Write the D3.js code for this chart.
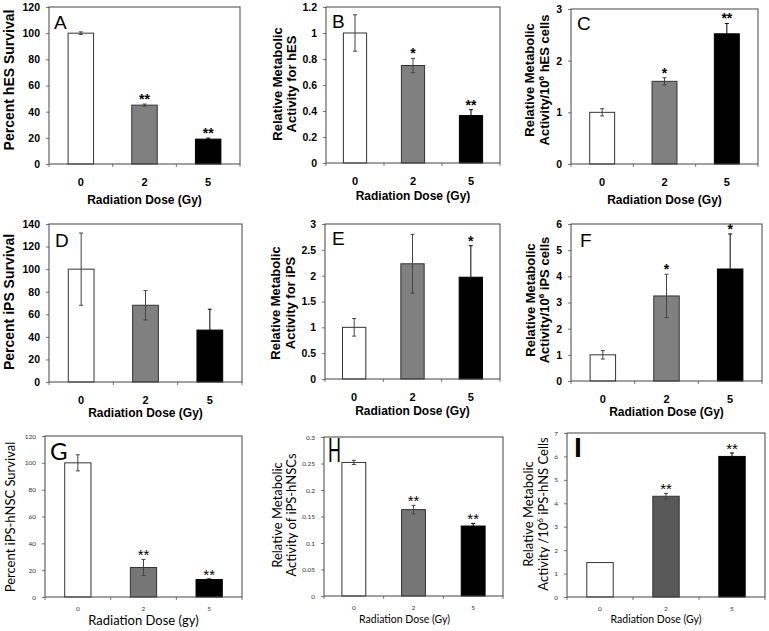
<!DOCTYPE html>
<html><head><meta charset="utf-8">
<script src="https://cdn.jsdelivr.net/npm/d3@7"></script>
<style>body{margin:0;background:#fff}svg{display:block}</style>
</head><body>
<svg id="chart" width="769" height="631"></svg>
<script>
// ---------- DATA ----------
const categories = ["0", "2", "5"];

const hesSurvival      = [100, 45, 19];
const hesSurvivalErr   = [1, 0.8, 0.8];
const hesMetab         = [1.0, 0.75, 0.365];
const hesMetabErr      = [0.14, 0.055, 0.045];
const hesMetabCell     = [1.0, 1.6, 2.52];
const hesMetabCellErr  = [0.07, 0.07, 0.2];

const ipsSurvival      = [100, 68, 46];
const ipsSurvivalErr   = [32, 13, 18.5];
const ipsMetab         = [1.0, 2.23, 1.97];
const ipsMetabErr      = [0.17, 0.57, 0.61];
const ipsMetabCell     = [1.0, 3.25, 4.28];
const ipsMetabCellErr  = [0.16, 0.83, 1.34];

const nscSurvival      = [100, 22, 13];
const nscSurvivalErr   = [6, 6, 0.5];
const nscMetab         = [0.252, 0.163, 0.132];
const nscMetabErr      = [0.004, 0.008, 0.005];
const nscMetabCell     = [1.47, 4.3, 6.0];
const nscMetabCellErr  = [0, 0.12, 0.15];

const starsA = ["", "**", "**"];
const starsB = ["", "*", "**"];
const starsC = ["", "*", "**"];
const starsD = ["", "", ""];
const starsE = ["", "", "*"];
const starsF = ["", "*", "*"];
const starsG = ["", "**", "**"];
const starsH = ["", "**", "**"];
const starsI = ["", "**", "**"];

const ticksA = [0, 20, 40, 60, 80, 100, 120];
const ticksB = [0, 0.2, 0.4, 0.6, 0.8, 1, 1.2];
const ticksC = [0, 1, 2, 3];
const ticksD = [0, 20, 40, 60, 80, 100, 120, 140];
const ticksE = [0, 0.5, 1, 1.5, 2, 2.5, 3];
const ticksF = [0, 1, 2, 3, 4, 5, 6];
const ticksG = [0, 20, 40, 60, 80, 100, 120];
const ticksH = [0, 0.05, 0.1, 0.15, 0.2, 0.25, 0.3];
const ticksI = [0, 1, 2, 3, 4, 5, 6, 7];

// ---------- LAYOUT / STYLE ----------
const TOP = {font: "'Liberation Sans', Arial, sans-serif", weight: "bold", tick: 10.5, xtick: 11, xt: 12, yt1: 14, yt2: 13,
             tickPadX: 14, letterFont: "'Liberation Sans', Arial, sans-serif", letterWeight: "normal", letterSize: 19,
             grays: ["#ffffff", "#808080", "#000000"], tickColor: "#000",
             starFont: "'Liberation Sans', Arial, sans-serif", starWeight: "bold", starSize: 14, starOff: 0};
const BOT = {font: "Lato, 'Open Sans', sans-serif", weight: "normal", tick: 6.5, xtick: 6.5, xt: 10.5, yt1: 13, yt2: 13,
             tickPadX: 9, letterFont: "Lato, sans-serif", letterWeight: "normal", letterSize: 24,
             grays: ["#ffffff", "#767676", "#000000"], tickColor: "#333",
             starFont: "'Liberation Sans', Arial, sans-serif", starWeight: "normal", starSize: 15, starOff: 1};

const panels = [
  {L: "A", v: hesSurvival, e: hesSurvivalErr, s: starsA, t: ticksA, f: [49, 7, 240, 164], st: TOP,
   yt: ["Percent hES Survival"], ytx: [9], yty: 80, xt: "Radiation Dose (Gy)", xtb: 40, lx: 5, lb: 22},
  {L: "B", v: hesMetab, e: hesMetabErr, s: starsB, t: ticksB, f: [326, 7, 500, 163], st: TOP,
   yt: ["Relative Metabolic", "Activity for hES"], ytx: [277, 291], yty: 84, xt: "Radiation Dose (Gy)", xtb: 37, lx: 6, lb: 21},
  {L: "C", v: hesMetabCell, e: hesMetabCellErr, s: starsC, t: ticksC, f: [571, 9, 758, 164], st: TOP,
   yt: ["Relative Metabolic", "Activity/10|6| hES cells"], ytx: [529, 544], yty: 80, xt: "Radiation Dose (Gy)", xtb: 40, lx: 6, lb: 21},
  {L: "D", v: ipsSurvival, e: ipsSurvivalErr, s: starsD, t: ticksD, f: [49, 224, 242, 382], st: TOP,
   yt: ["Percent iPS Survival"], ytx: [9], yty: 302, xt: "Radiation Dose (Gy)", xtb: 35, lx: 6, lb: 23},
  {L: "E", v: ipsMetab, e: ipsMetabErr, s: starsE, t: ticksE, f: [325, 224, 500, 379], st: TOP,
   yt: ["Relative Metabolic", "Activity for iPS"], ytx: [275, 290], yty: 303, xt: "Radiation Dose (Gy)", xtb: 36, lx: 7, lb: 21},
  {L: "F", v: ipsMetabCell, e: ipsMetabCellErr, s: starsF, t: ticksF, f: [571, 224, 762, 381], st: TOP,
   yt: ["Relative Metabolic", "Activity/10|6| iPS cells"], ytx: [530, 544], yty: 300, xt: "Radiation Dose (Gy)", xtb: 35, lx: 9, lb: 23},
  {L: "G", v: nscSurvival, e: nscSurvivalErr, s: starsG, t: ticksG, f: [45, 436, 242, 597], st: BOT,
   yt: ["Percent iPS-hNSC Survival"], ytx: [10], yty: 517, xt: "Radiation Dose (gy)", xtb: 28, xtSize: 13, lx: 5, lb: 24},
  {L: "H", v: nscMetab, e: nscMetabErr, s: starsH, t: ticksH, f: [324, 437, 503, 596], st: BOT,
   yt: ["Relative Metabolic", "Activity of  iPS-hNSCs"], ytx: [277, 291], yty: 515, xt: "Radiation Dose (Gy)", xtb: 27, xtdx: -9, lx: 4, lb: 25, lw: 13, ls: 32},
  {L: "I", v: nscMetabCell, e: nscMetabCellErr, s: starsI, t: ticksI, f: [567, 433, 765, 597], st: BOT,
   yt: ["Relative Metabolic", "Activity /10|6| iPS-hNS Cells"], ytx: [528, 543], yty: 514, xt: "Radiation Dose (Gy)", xtb: 26, xtdx: -10, lx: 7, lb: 24, lweight: 900, ls: 26,
   grays: ["#ffffff", "#595959", "#000000"]}
];

const svg = d3.select("#chart");

function addRich(sel, str, size) {
  // "|6|" denotes superscript
  const parts = str.split("|");
  parts.forEach((p, i) => {
    if (i % 2 === 1) {
      sel.append("tspan").attr("font-size", size * 0.62).attr("dy", -size * 0.38).text(p);
    } else {
      const ts = sel.append("tspan").text(p);
      if (i > 0) ts.attr("dy", size * 0.38);
    }
  });
}

panels.forEach(p => {
  const st = p.st;
  const [x0, y0, x1, y1] = p.f;
  const g = svg.append("g");
  const x = d3.scaleBand().domain(categories).range([x0, x1]).paddingInner(0.6).paddingOuter(0.3);
  const y = d3.scaleLinear().domain([0, p.t[p.t.length - 1]]).range([y1, y0]);
  const grays = p.grays || st.grays;

  // y axis
  const ya = g.append("g").attr("transform", `translate(${x0},0)`)
    .call(d3.axisLeft(y).tickValues(p.t).tickFormat(d => String(d)).tickSizeInner(3).tickSizeOuter(0).tickPadding(6));
  ya.select(".domain").remove();
  ya.selectAll("line").attr("stroke", "#777");
  ya.selectAll("text").attr("font-family", st.font).attr("font-weight", st.weight)
    .attr("font-size", st.tick).attr("fill", st.tickColor);

  // x axis labels
  const xa = g.append("g").attr("transform", `translate(0,${y1})`)
    .call(d3.axisBottom(x).tickSize(0).tickPadding(st.tickPadX));
  xa.select(".domain").remove();
  xa.selectAll("text").attr("font-family", st.font).attr("font-weight", st.weight)
    .attr("font-size", st.xtick).attr("fill", st.tickColor);
  // x tick marks at band edges
  g.selectAll(".xt").data(d3.range(categories.length + 1)).join("line")
    .attr("x1", i => x.range()[0] + i * x.step()).attr("x2", i => x.range()[0] + i * x.step())
    .attr("y1", y1).attr("y2", y1 + 3).attr("stroke", "#777");

  // bars
  g.selectAll(".bar").data(p.v).join("rect")
    .attr("x", (d, i) => x(categories[i]))
    .attr("y", d => y(d))
    .attr("width", x.bandwidth())
    .attr("height", d => y(0) - y(d))
    .attr("fill", (d, i) => grays[i])
    .attr("stroke", (d, i) => i === 2 ? "#000" : "#333")
    .attr("stroke-width", 1);

  // error bars
  p.v.forEach((d, i) => {
    const err = p.e[i];
    if (!err) return;
    const cx = x(categories[i]) + x.bandwidth() / 2;
    const col = i === 2 ? "#000" : "#444";
    g.append("line").attr("x1", cx).attr("x2", cx).attr("y1", y(d - err)).attr("y2", y(d + err))
      .attr("stroke", col).attr("stroke-width", 1);
    [d - err, d + err].forEach(v => {
      g.append("line").attr("x1", cx - 2).attr("x2", cx + 2).attr("y1", y(v)).attr("y2", y(v))
        .attr("stroke", col).attr("stroke-width", 1);
    });
  });

  // significance stars
  p.s.forEach((s, i) => {
    if (!s) return;
    const cx = x(categories[i]) + x.bandwidth() / 2;
    g.append("text").attr("x", cx).attr("y", y(p.v[i] + p.e[i]) + st.starOff)
      .attr("text-anchor", "middle").attr("font-family", st.starFont)
      .attr("font-weight", st.starWeight).attr("font-size", st.starSize)
      .attr("fill", "#000").text(s);
  });

  // frame
  g.append("rect").attr("x", x0).attr("y", y0).attr("width", x1 - x0).attr("height", y1 - y0)
    .attr("fill", "none").attr("stroke", "#444").attr("stroke-width", 1);

  // panel letter
  const lt = g.append("text").attr("x", x0 + p.lx).attr("y", y0 + p.lb)
    .attr("font-family", st.letterFont).attr("font-weight", p.lweight || st.letterWeight)
    .attr("font-size", p.ls || st.letterSize).attr("fill", "#000").text(p.L);
  if (p.lw) lt.attr("textLength", p.lw).attr("lengthAdjust", "spacingAndGlyphs");

  // x title
  g.append("text").attr("x", (x0 + x1) / 2 + (p.xtdx || 0)).attr("y", y1 + p.xtb).attr("text-anchor", "middle")
    .attr("font-family", st.font).attr("font-weight", st.weight).attr("font-size", p.xtSize || st.xt)
    .attr("fill", "#000").text(p.xt);

  // y title
  const ysz = p.yt.length === 1 ? st.yt1 : st.yt2;
  p.yt.forEach((line, k) => {
    const t = g.append("text").attr("transform", `translate(${p.ytx[k]},${p.yty}) rotate(-90)`)
      .attr("text-anchor", "middle").attr("dy", "0.35em")
      .attr("font-family", st.font).attr("font-weight", st.weight).attr("font-size", ysz).attr("fill", "#000");
    addRich(t, line, ysz);
  });
});
</script>
</body></html>
